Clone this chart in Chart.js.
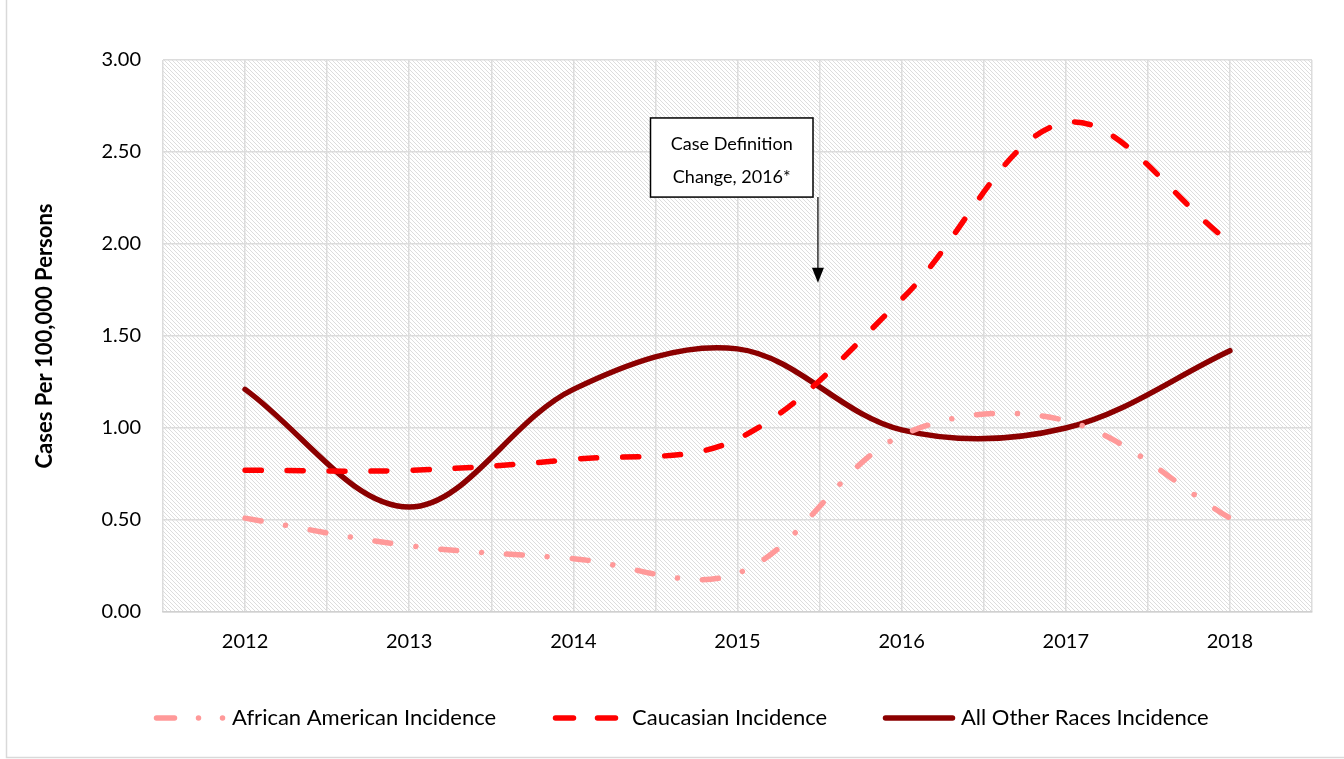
<!DOCTYPE html>
<html>
<head>
<meta charset="utf-8">
<script src="https://cdn.jsdelivr.net/npm/chart.js@4.4.1/dist/chart.umd.min.js"></script>
<style>
  html, body { margin: 0; padding: 0; background: #ffffff; }
  #wrap { width: 1344px; height: 759px; position: relative; }
</style>
</head>
<body>
<div id="wrap"><canvas id="c" width="1344" height="759"></canvas></div>
<script>
// ---- data ----
const categories = ["2012", "2013", "2014", "2015", "2016", "2017", "2018"];
const africanAmerican = [0.51, 0.36, 0.29, 0.21, 0.96, 1.04, 0.51];
const caucasian = [0.77, 0.77, 0.83, 0.94, 1.70, 2.66, 2.01];
const allOtherRaces = [1.21, 0.57, 1.21, 1.43, 0.99, 1.00, 1.42];
const seriesNames = ["African American Incidence", "Caucasian Incidence", "All Other Races Incidence"];
const yTicks = [0, 0.5, 1, 1.5, 2, 2.5, 3];
const annotationText = ["Case Definition", "Change, 2016*"];

const FONT = "Lato, 'Liberation Sans', sans-serif";

function toPoints(arr) { return arr.map((v, i) => ({ x: i, y: v })); }

// hatch pattern for plot background
function makePattern(ctx) {
  const p = document.createElement('canvas');
  p.width = 4; p.height = 4;
  const pc = p.getContext('2d');
  pc.fillStyle = '#ffffff';
  pc.fillRect(0, 0, 4, 4);
  pc.fillStyle = '#dddddd';
  for (let i = 0; i < 4; i++) pc.fillRect(i, i, 1, 1);
  return ctx.createPattern(p, 'repeat');
}

const bgPlugin = {
  id: 'bg',
  beforeDraw(chart) {
    const { ctx, chartArea: a } = chart;
    ctx.save();
    ctx.fillStyle = '#ffffff';
    ctx.fillRect(0, 0, chart.width, chart.height);
    ctx.fillStyle = makePattern(ctx);
    ctx.fillRect(a.left, a.top, a.right - a.left, a.bottom - a.top);
    // outer border
    ctx.strokeStyle = '#d9d9d9';
    ctx.lineWidth = 1.5;
    ctx.strokeRect(6.5, -5, chart.width + 10, 762.5);
    ctx.restore();
  }
};

const annotationPlugin = {
  id: 'annot',
  afterDatasetsDraw(chart) {
    const { ctx, scales: { x, y } } = chart;
    const bx1 = x.getPixelForValue(2.47), bx2 = x.getPixelForValue(3.46);
    const by1 = y.getPixelForValue(2.685), by2 = y.getPixelForValue(2.255);
    const ax = x.getPixelForValue(3.49);
    const tipY = y.getPixelForValue(1.79);
    ctx.save();
    ctx.fillStyle = '#ffffff';
    ctx.fillRect(bx1, by1, bx2 - bx1, by2 - by1);
    ctx.strokeStyle = '#000000';
    ctx.lineWidth = 1.5;
    ctx.strokeRect(bx1, by1, bx2 - bx1, by2 - by1);
    ctx.fillStyle = '#000000';
    ctx.font = "18px " + FONT;
    ctx.textAlign = 'center';
    ctx.textBaseline = 'middle';
    const cx = (bx1 + bx2) / 2;
    ctx.fillText(annotationText[0], cx, by1 + 26);
    ctx.fillText(annotationText[1], cx, by1 + 59);
    // arrow
    ctx.beginPath();
    ctx.lineWidth = 1.2;
    ctx.moveTo(ax, by2);
    ctx.lineTo(ax, tipY - 14);
    ctx.stroke();
    ctx.beginPath();
    ctx.moveTo(ax - 6, tipY - 15);
    ctx.lineTo(ax + 6, tipY - 15);
    ctx.lineTo(ax, tipY);
    ctx.closePath();
    ctx.fill();
    ctx.restore();
  }
};

const legendPlugin = {
  id: 'customLegend',
  afterDraw(chart) {
    const ctx = chart.ctx;
    const ly = 718;
    const items = [
      { color: '#FF9999', dash: [18, 24, 0.01, 24, 0.01, 200], x1: 156.5, x2: 225, tx: 232 },
      { color: '#FF0000', dash: [18, 24], x1: 555.5, x2: 616, tx: 632 },
      { color: '#8B0000', dash: [], x1: 885.5, x2: 952.5, tx: 961 }
    ];
    ctx.save();
    items.forEach((it, i) => {
      ctx.beginPath();
      ctx.strokeStyle = it.color;
      ctx.lineWidth = 5.5;
      ctx.lineCap = 'round';
      ctx.setLineDash(it.dash);
      ctx.moveTo(it.x1, ly);
      ctx.lineTo(it.x2, ly);
      ctx.stroke();
      ctx.setLineDash([]);
      ctx.fillStyle = '#000000';
      ctx.font = "22px " + FONT;
      ctx.textAlign = 'left';
      ctx.textBaseline = 'middle';
      ctx.fillText(seriesNames[i], it.tx, ly);
    });
    ctx.restore();
  }
};

const ctx = document.getElementById('c').getContext('2d');
new Chart(ctx, {
  type: 'line',
  data: {
    datasets: [
      {
        label: seriesNames[0],
        data: toPoints(africanAmerican),
        borderColor: '#FF9999',
        borderWidth: 5.5,
        borderDash: [16, 25, 0.01, 25],
        borderCapStyle: 'round',
        pointRadius: 0,
        tension: 0.35,
        fill: false
      },
      {
        label: seriesNames[1],
        data: toPoints(caucasian),
        borderColor: '#FF0000',
        borderWidth: 5.5,
        borderDash: [16, 26],
        borderCapStyle: 'round',
        pointRadius: 0,
        tension: 0.35,
        fill: false
      },
      {
        label: seriesNames[2],
        data: toPoints(allOtherRaces),
        borderColor: '#8B0000',
        borderWidth: 5.5,
        borderCapStyle: 'round',
        borderJoinStyle: 'round',
        pointRadius: 0,
        tension: 0.35,
        fill: false
      }
    ]
  },
  options: {
    responsive: false,
    animation: false,
    events: [],
    layout: { padding: { left: 32, right: 32, top: 60, bottom: 97 } },
    plugins: {
      legend: { display: false },
      tooltip: { enabled: false }
    },
    scales: {
      x: {
        type: 'linear',
        min: -0.5,
        max: 6.5,
        afterBuildTicks(scale) {
          const t = [];
          for (let k = 0; k <= 14; k++) t.push({ value: -0.5 + k * 0.5 });
          scale.ticks = t;
        },
        afterFit(scale) { scale.height = 50; },
        grid: { color: '#dcdcdc', lineWidth: 1.5, drawTicks: false },
        border: { display: true, color: '#d0d0d0', width: 1.5 },
        ticks: {
          autoSkip: false,
          maxRotation: 0,
          padding: 18,
          color: '#000000',
          font: { family: FONT, size: 20 },
          callback: (v) => Number.isInteger(v) ? categories[v] : ''
        }
      },
      y: {
        min: 0,
        max: 3,
        afterBuildTicks(scale) { scale.ticks = yTicks.map(v => ({ value: v })); },
        afterFit(scale) { scale.width = 163 - 32; },
        grid: { color: '#dcdcdc', lineWidth: 1.5, drawTicks: false },
        border: { display: false },
        ticks: {
          padding: 22,
          color: '#000000',
          font: { family: FONT, size: 20 },
          callback: (v) => Number(v).toFixed(2)
        },
        title: {
          display: true,
          text: 'Cases Per 100,000 Persons',
          color: '#000000',
          font: { family: FONT, size: 22, weight: 'bold' },
          padding: 0
        }
      }
    }
  },
  plugins: [bgPlugin, annotationPlugin, legendPlugin]
});
</script>
</body>
</html>
